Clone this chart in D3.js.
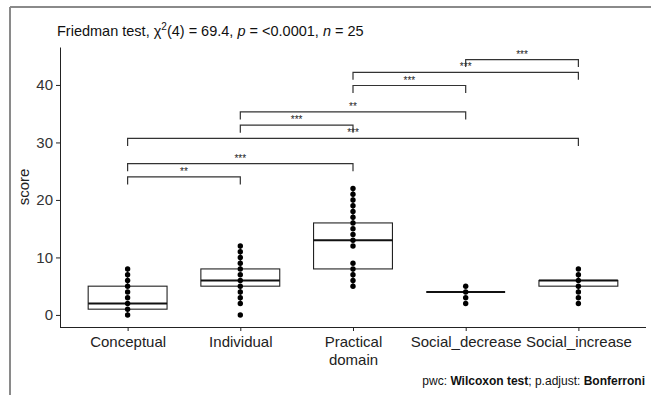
<!DOCTYPE html>
<html lang="en">
<head>
    <meta charset="UTF-8">
    <title>Friedman test boxplot</title>
    <script src="https://d3js.org/d3.v7.min.js"></script>
    <style>
        body { margin: 0; padding: 0; background: #fff; }
        svg { display: block; font-family: "Liberation Sans", Arial, sans-serif; }
    </style>
</head>
<body>
    <svg id="chart" width="651" height="395"></svg>
    <script>
        // Categories and box statistics
        const categories = ["Conceptual", "Individual", "Practical domain", "Social_decrease", "Social_increase"];
        const q1 = [1, 5, 8, 4, 5];
        const medians = [2, 6, 13, 4, 6];
        const q3 = [5, 8, 16, 4, 6];
        const whiskerLo = [0, 2, 5, 4, 4];
        const whiskerHi = [8, 12, 22, 4, 7];

        // Observed scores (distinct values shown as dots)
        const dots = [
            [0, 1, 2, 3, 4, 5, 6, 7, 8],
            [0, 2, 3, 4, 5, 6, 7, 8, 9, 10, 11, 12],
            [5, 6, 7, 8, 9, 12, 13, 14, 15, 16, 17, 18, 19, 20, 21, 22],
            [2, 3, 4, 5],
            [2, 3, 4, 5, 6, 7, 8]
        ];

        // Pairwise comparisons
        const group1 = ["Conceptual", "Conceptual", "Conceptual", "Individual", "Individual", "Practical domain", "Practical domain", "Social_decrease"];
        const group2 = ["Individual", "Practical domain", "Social_increase", "Practical domain", "Social_decrease", "Social_decrease", "Social_increase", "Social_increase"];
        const bracketY = [24.0, 26.3, 30.7, 33.0, 35.3, 39.9, 42.2, 44.4];
        const signif = ["**", "***", "***", "***", "**", "***", "***", "***"];

        const yTicks = [0, 10, 20, 30, 40];

        const svg = d3.select("#chart");
        const pLeft = 60, pRight = 646, pTop = 47, pBottom = 327;

        // screenshot border
        svg.append("line").attr("x1", 10).attr("x2", 10).attr("y1", 7).attr("y2", 395)
            .attr("stroke", "#8a8a8a").attr("stroke-width", 2);
        svg.append("line").attr("x1", 10).attr("x2", 651).attr("y1", 7).attr("y2", 7)
            .attr("stroke", "#8a8a8a").attr("stroke-width", 2);

        const x = d3.scalePoint().domain(categories).range([pLeft, pRight]).padding(0.6);
        const y = d3.scaleLinear().domain([-2.1, 46.6]).range([pBottom, pTop]);
        const boxW = x.step() * 0.7;

        // axes
        const yAxis = svg.append("g")
            .attr("transform", `translate(${pLeft},0)`)
            .call(d3.axisLeft(y).tickValues(yTicks).tickSize(4).tickPadding(3).tickSizeOuter(0));
        yAxis.select(".domain").attr("stroke", "#222");
        yAxis.selectAll(".tick line").attr("stroke", "#222");
        yAxis.selectAll("text").attr("font-size", 15).attr("fill", "#333")
            .attr("font-family", "Liberation Sans, Arial, sans-serif");

        const xAxis = svg.append("g")
            .attr("transform", `translate(0,${pBottom})`)
            .call(d3.axisBottom(x).tickSize(4).tickPadding(4).tickSizeOuter(0));
        xAxis.select(".domain").attr("stroke", "#222").attr("d", `M${pLeft},0.5H${pRight}`);
        xAxis.selectAll(".tick line").attr("stroke", "#222");
        xAxis.selectAll("text").remove();
        xAxis.selectAll(".tick").each(function(d) {
            const t = d3.select(this).append("text")
                .attr("text-anchor", "middle").attr("fill", "#222")
                .attr("font-size", 15).attr("font-family", "Liberation Sans, Arial, sans-serif");
            const words = d === "Practical domain" ? ["Practical", "domain"] : [d];
            words.forEach((w, i) => t.append("tspan").attr("x", 0).attr("y", 20 + i * 18).text(w));
        });

        // y label
        svg.append("text")
            .attr("transform", `translate(29,${(pTop + pBottom) / 2}) rotate(-90)`)
            .attr("text-anchor", "middle").attr("font-size", 15).attr("fill", "#222")
            .text("score");

        // boxes
        const boxes = svg.append("g");
        categories.forEach((c, i) => {
            const cx = x(c);
            boxes.append("line").attr("x1", cx).attr("x2", cx)
                .attr("y1", y(whiskerLo[i])).attr("y2", y(q1[i])).attr("stroke", "#222");
            boxes.append("line").attr("x1", cx).attr("x2", cx)
                .attr("y1", y(q3[i])).attr("y2", y(whiskerHi[i])).attr("stroke", "#222");
            boxes.append("rect")
                .attr("x", cx - boxW / 2).attr("width", boxW)
                .attr("y", y(q3[i])).attr("height", y(q1[i]) - y(q3[i]))
                .attr("fill", "#fff").attr("stroke", "#222").attr("stroke-width", 1.1);
            boxes.append("line")
                .attr("x1", cx - boxW / 2).attr("x2", cx + boxW / 2)
                .attr("y1", y(medians[i])).attr("y2", y(medians[i]))
                .attr("stroke", "#111").attr("stroke-width", 2);
            boxes.selectAll(null).data(dots[i]).enter().append("circle")
                .attr("cx", cx).attr("cy", d => y(d)).attr("r", 2.7).attr("fill", "#000");
        });

        // brackets
        const tip = 1.3;
        const br = svg.append("g");
        group1.forEach((g, i) => {
            const x1 = x(g), x2 = x(group2[i]), yy = y(bracketY[i]);
            br.append("path")
                .attr("d", `M${x1},${y(bracketY[i] - tip)}V${yy}H${x2}V${y(bracketY[i] - tip)}`)
                .attr("fill", "none").attr("stroke", "#333").attr("stroke-width", 1.2);
            br.append("text")
                .attr("x", (x1 + x2) / 2).attr("y", yy - 2)
                .attr("text-anchor", "middle").attr("font-size", 10).attr("fill", "#222")
                .text(signif[i]);
        });

        // title
        const title = svg.append("text").attr("x", 57).attr("y", 36)
            .attr("font-size", 14.5).attr("fill", "#111");
        title.append("tspan").text("Friedman test, χ");
        title.append("tspan").attr("font-size", 10).attr("dy", -6).text("2");
        title.append("tspan").attr("dy", 6).text("(4) = 69.4, ");
        title.append("tspan").attr("font-style", "italic").text("p");
        title.append("tspan").text(" = <0.0001, ");
        title.append("tspan").attr("font-style", "italic").text("n");
        title.append("tspan").text(" = 25");

        // caption
        const cap = svg.append("text").attr("x", 645).attr("y", 385)
            .attr("text-anchor", "end").attr("font-size", 12).attr("fill", "#111");
        cap.append("tspan").text("pwc: ");
        cap.append("tspan").attr("font-weight", "bold").text("Wilcoxon test");
        cap.append("tspan").text("; p.adjust: ");
        cap.append("tspan").attr("font-weight", "bold").text("Bonferroni");
    </script>
</body>
</html>
